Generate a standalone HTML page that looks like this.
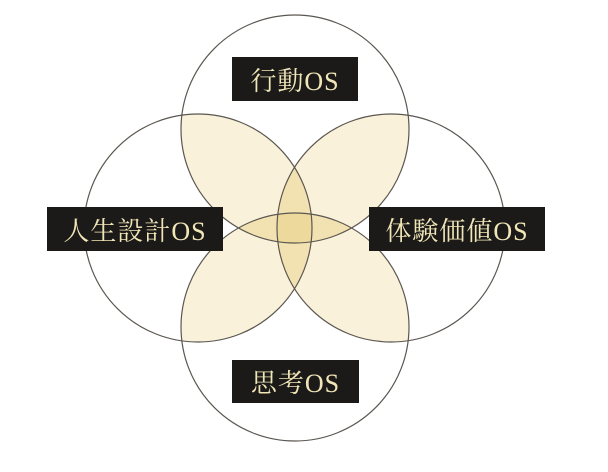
<!DOCTYPE html>
<html><head><meta charset="utf-8"><style>
html,body{margin:0;padding:0;background:#fff;width:608px;height:472px;overflow:hidden}
.l{position:absolute;background:#1b1a18;color:#f1e6b8;font-family:"Liberation Serif","Noto Serif CJK SC",serif;font-size:26px;display:flex;align-items:center;justify-content:center;letter-spacing:1px}
</style></head><body>
<svg width="608" height="472" style="position:absolute;left:0;top:0">
<defs>
<clipPath id="cT"><circle cx="295" cy="129" r="114"/></clipPath>
<clipPath id="cB"><circle cx="295" cy="327" r="114"/></clipPath>
<clipPath id="cL"><circle cx="198" cy="228" r="114"/></clipPath>
<clipPath id="cR"><circle cx="391" cy="228" r="114"/></clipPath>
</defs>
<g fill="rgba(238,214,150,0.35)">
<g clip-path="url(#cT)"><circle cx="198" cy="228" r="114"/><circle cx="391" cy="228" r="114"/></g>
<g clip-path="url(#cB)"><circle cx="198" cy="228" r="114"/><circle cx="391" cy="228" r="114"/></g>
<g clip-path="url(#cT)"><circle cx="295" cy="327" r="114"/></g>
<g clip-path="url(#cL)"><circle cx="391" cy="228" r="114"/></g>
</g>
<g fill="none" stroke="#5a5650" stroke-width="1.2">
<circle cx="295" cy="129" r="114"/>
<circle cx="295" cy="327" r="114"/>
<circle cx="198" cy="228" r="114"/>
<circle cx="391" cy="228" r="114"/>
</g>
</svg>
<div class="l" style="left:232px;top:57px;width:126px;height:44px">行動OS</div>
<div class="l" style="left:47px;top:207px;width:176px;height:44px">人生設計OS</div>
<div class="l" style="left:369px;top:207px;width:176px;height:44px">体験価値OS</div>
<div class="l" style="left:232px;top:360px;width:127px;height:43px">思考OS</div>
</body></html>
